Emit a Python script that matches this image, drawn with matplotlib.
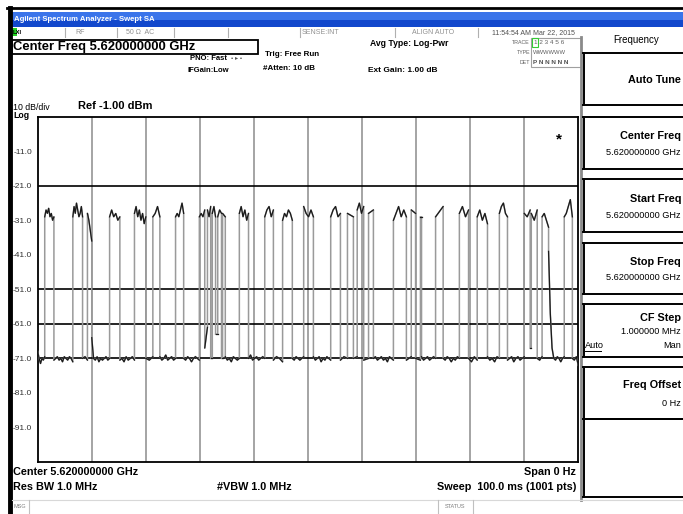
import numpy as np
import matplotlib
matplotlib.use("Agg")
import matplotlib.pyplot as plt
from matplotlib.patches import Rectangle
from matplotlib.lines import Line2D

# ---------------------------------------------------------------- trace data
sweep_ms = 100.0
ref_level_dbm = -1.0
db_per_div = 10.0

# RF burst on/off times (ms) within the zero-span sweep
burst_start_ms = [1.3, 6.5, 9.2, 13.3, 17.9, 21.3, 25.5,
                  29.9, 31.4, 32.3, 33.3, 34.2,
                  37.3, 42.0, 45.3, 49.2, 54.2, 57.3, 59.1, 61.2,
                  65.8, 69.1, 70.8, 73.6, 78.0, 81.3, 85.4,
                  90.0, 91.3, 93.3, 97.4]
burst_stop_ms = [3.0, 8.3, 10.0, 15.2, 20.0, 22.6, 27.0,
                 30.9, 32.0, 32.9, 34.0, 34.7,
                 39.0, 43.6, 47.1, 51.0, 56.0, 58.4, 60.3, 62.1,
                 68.2, 69.9, 71.0, 75.0, 79.7, 83.2, 86.9,
                 91.1, 92.4, 94.5, 98.9]

# level readings (dBm) across the top of each burst
burst_top_dbm = [
    [-30, -28, -29, -27.5, -30, -29, -31, -30],
    [-30, -27, -29, -26, -28, -30, -29, -27, -30],
    [-29, -31, -34, -37],
    [-30, -28, -30, -29, -31, -30],
    [-29, -27, -30, -28, -31, -29, -32, -30],
    [-30, -29, -27, -30],
    [-30, -29, -30, -28, -26, -29],
    [-30, -29, -30, -28],
    [-28, -30, -27],
    [-29, -27, -30],
    [-30, -28, -29],
    [-29, -30],
    [-29, -27, -30, -28, -31, -29],
    [-30, -28, -27, -30, -28],
    [-31, -29, -30, -28, -29, -31],
    [-27, -29, -30, -28, -30],
    [-30, -28, -27, -30, -29],
    [-29, -30],
    [-28, -26, -29, -27],
    [-29, -28],
    [-31, -29, -27, -30, -28, -30],
    [-28, -29],
    [-30, -30],
    [-30, -29, -28, -27],
    [-29, -27, -30, -28],
    [-30, -28, -31, -29, -32],
    [-29, -27, -26, -29, -30],
    [-29, -30, -28],
    [-29, -31, -28],
    [-30, -29, -31, -33],
    [-30, -29, -27, -25, -30],
]

# noise-floor readings (dBm) in each gap between bursts
floor_dbm = [
    [-69, -71, -72.5, -71, -71.5, -70.5],
    [-71.5, -71, -70.5, -71.5, -71, -72, -70.5, -71, -71.5, -70.5, -71, -72],
    [-71, -70.5, -71.5],
    [-65, -71, -71.5, -70.5, -72, -71, -71.5, -71, -70.5, -71.5, -71],
    [-71.5, -71, -72, -70.5, -71.5, -71, -70.5, -71.5],
    [-71, -71.5, -70.5],
    [-70.5, -71.5, -71, -70, -71.5, -71, -70.5, -71.5, -71],
    [-71, -71.5, -70.5, -71, -72, -71, -70.5, -71, -71.5],
    [-68, -62],
    [-71],
    [-64],
    [-71],
    [-70.5, -71.5, -71, -72, -70.5, -71, -71.5, -71],
    [-71, -70, -71.5, -71, -70.5, -71.5, -71, -70.5, -71],
    [-71.5, -70.5, -71, -72],
    [-71, -71.5, -70.5, -71, -71.5, -71, -70.5],
    [-70.5, -71.5, -71, -70.5, -72, -71, -71.5, -70.5, -71, -71.5],
    [-71.5, -70.5, -71],
    [-71, -70.5],
    [-71.5, -71],
    [-71, -70.5, -71.5, -71, -70.5, -71.5, -71, -72, -70.5, -71, -71.5],
    [-71.5, -70.5],
    [-71, -71.5],
    [-70.5, -71.5, -71, -70.5, -71.5, -71, -70.5, -71],
    [-71, -71.5, -70.5, -71, -72, -71, -71.5, -70.5, -71],
    [-71, -72, -70.5, -71.5],
    [-70.5, -71.5, -71, -72, -70.5, -71],
    [-71.5, -71, -70.5, -72, -71, -70.5, -71.5, -71, -70.5],
    [-68],
    [-71, -71.5, -70.5],
    [-40, -58, -68, -71, -71.5, -70.5, -71, -72, -71, -70.5],
    [-71, -71.5, -70.5, -73],
]

hline_dbm = [-21, -51, -61, -71]
ytick_dbm = [-11, -21, -31, -41, -51, -61, -71, -81, -91]

# ---------------------------------------------------------------- figure setup
W, H = 683, 514
plt.rcParams['font.family'] = ['Liberation Sans', 'DejaVu Sans']
fig = plt.figure(figsize=(W / 100, H / 100), dpi=100)
fig.patch.set_facecolor('white')


def fx(x):
    return x / W


def fy(y):
    return 1 - y / H


def text(x, y, s, size=7.0, weight='normal', color='black', ha='left', va='center', **kw):
    return fig.text(fx(x), fy(y), s, fontsize=size, fontweight=weight, color=color,
                    ha=ha, va=va, **kw)


def rect(x0, y0, x1, y1, **kw):
    fig.patches.append(Rectangle((fx(x0), fy(y1)), fx(x1) - fx(x0), fy(y0) - fy(y1),
                                 transform=fig.transFigure, **kw))


def seg(x0, y0, x1, y1, **kw):
    fig.lines.append(Line2D([fx(x0), fx(x1)], [fy(y0), fy(y1)],
                            transform=fig.transFigure, **kw))


# outer window frame and title bar
seg(7, 8, 683, 8, color='black', lw=2.0)
seg(9.5, 8, 9.5, 514, color='black', lw=3.5)
rect(12, 12, 683, 20, facecolor='#3a74ea', edgecolor='none')
rect(12, 20, 683, 27, facecolor='#1248cc', edgecolor='none')
text(14, 19.5, 'Agilent Spectrum Analyzer - Swept SA', size=5.6, weight='bold', color='white')

# status row
rect(12, 28, 17, 36, facecolor='#22d022', edgecolor='none')
text(12.5, 32, 'LXI', size=4.2, weight='bold', color='black')
for xs in [65, 117, 174, 228, 300, 395, 478]:
    seg(xs, 28, xs, 37, color='#b0b0b0', lw=0.8)
text(80, 32.5, 'RF', size=5, color='#909090', ha='center')
text(140, 32.5, '50 \u03a9  AC', size=5, color='#909090', ha='center')
text(320, 32.5, 'SENSE:INT', size=5, color='#909090', ha='center')
text(433, 32.5, 'ALIGN AUTO', size=5, color='#909090', ha='center')
text(533, 32.5, '11:54:54 AM Mar 22, 2015', size=5, color='#505050', ha='center')

# active function box
rect(12, 40, 258, 53.5, facecolor='none', edgecolor='black', lw=1.3)
text(13, 47, 'Center Freq 5.620000000 GHz', size=9.4, weight='bold', color='black')

text(190, 58, 'PNO: Fast', size=5.5, weight='bold')
text(231, 58, '\u2022 \u25b8 \u2022', size=4.5, color='#555555')
text(187, 70, 'IFGain:Low', size=5.5, weight='bold')
text(265, 55, 'Trig: Free Run', size=5.8, weight='bold')
text(263, 68, '#Atten: 10 dB', size=5.8, weight='bold')
text(370, 43, 'Avg Type: Log-Pwr', size=6.2, weight='bold')
text(368, 70, 'Ext Gain: 1.00 dB', size=6.0, weight='bold')

# trace indicator table
text(530, 42, 'TRACE', size=3.8, color='#606060', ha='right')
text(530, 52, 'TYPE', size=3.8, color='#606060', ha='right')
text(530, 62, 'DET', size=3.8, color='#606060', ha='right')
rect(531, 38, 581, 67, facecolor='none', edgecolor='#a0a0a0', lw=0.8)
rect(532, 38.5, 538, 47, facecolor='none', edgecolor='#33cc33', lw=0.8)
text(534, 42, '1 2 3 4 5 6', size=4.6, color='#606060')
text(533, 52, 'WWWWWW', size=4.2, color='#606060')
text(533, 62, 'P N N N N N', size=4.6, weight='bold', color='#505050')

# scale annotations
text(13, 107, '10 dB/div', size=6.3)
text(13, 115.5, 'Log', size=6.3, weight='bold')
text(78, 106, 'Ref -1.00 dBm', size=8.0, weight='bold')

# ---------------------------------------------------------------- right soft-key panel
seg(581, 37, 581, 500, color='#8a8a8a', lw=2.0)
text(636, 40, 'Frequency', size=7.0, ha='center')
boxes = [(53, 105), (117, 169), (179, 232), (243, 294), (304, 357), (367, 419), (419, 497)]
for y0, y1 in boxes:
    seg(583, y0, 683, y0, color='black', lw=1.4)
    seg(583, y1, 683, y1, color='black', lw=1.4)
    seg(583.5, y0, 583.5, y1, color='black', lw=1.4)
text(681, 80, 'Auto Tune', size=7.8, weight='bold', ha='right')
for ytitle, yval, title, val in [(136, 152, 'Center Freq', '5.620000000 GHz'),
                                 (199, 215, 'Start Freq', '5.620000000 GHz'),
                                 (262, 278, 'Stop Freq', '5.620000000 GHz')]:
    text(681, ytitle, title, size=7.8, weight='bold', ha='right')
    text(681, yval, val, size=6.6, ha='right')
text(681, 318, 'CF Step', size=7.8, weight='bold', ha='right')
text(681, 331, '1.000000 MHz', size=6.6, ha='right')
text(585, 346, 'Auto', size=6.6, ha='left')
seg(585, 351, 601, 351, color='black', lw=0.7)
text(681, 346, 'Man', size=6.6, ha='right')
text(681, 385, 'Freq Offset', size=7.8, weight='bold', ha='right')
text(681, 403, '0 Hz', size=6.6, ha='right')

# ---------------------------------------------------------------- graticule
ax_l, ax_r, ax_t, ax_b = 37.7, 578.3, 116.7, 462.0
ax = fig.add_axes([fx(ax_l), fy(ax_b), fx(ax_r) - fx(ax_l), fy(ax_t) - fy(ax_b)])
ax.set_xlim(0, sweep_ms)
bottom_dbm = ref_level_dbm - 10 * db_per_div
ax.set_ylim(bottom_dbm, ref_level_dbm)
ax.set_facecolor('white')
for s in ax.spines.values():
    s.set_linewidth(1.3)
    s.set_color('black')
ax.set_xticks([])
ax.set_yticks(ytick_dbm)
ax.set_yticklabels([f'{v:.1f}' for v in ytick_dbm], fontsize=6.0, color='#303030')
ax.tick_params(axis='y', length=0, pad=4)

for k in range(1, 10):
    ax.axvline(k * sweep_ms / 10, color='#a4a4a4', lw=1.4, zorder=1)
for lv in hline_dbm:
    ax.axhline(lv, color='black', lw=1.2, zorder=1)

# ---------------------------------------------------------------- trace
t_all, v_all = [], []
pieces = []
n = len(burst_start_ms)
for k in range(n + 1):
    g0 = 0.0 if k == 0 else burst_stop_ms[k - 1]
    g1 = sweep_ms if k == n else burst_start_ms[k]
    vals = floor_dbm[k] if len(floor_dbm[k]) > 1 else floor_dbm[k] * 2
    tt = np.linspace(g0, g1, len(vals))
    t_all += list(tt)
    v_all += list(vals)
    pieces.append((tt, vals))
    if k < n:
        vals = burst_top_dbm[k]
        tt = np.linspace(burst_start_ms[k], burst_stop_ms[k], len(vals))
        t_all += list(tt)
        v_all += list(vals)
        pieces.append((tt, vals))

ax.plot(t_all, v_all, color='#9a9a9a', lw=1.1, zorder=3, solid_joinstyle='miter')
for tt, vals in pieces:
    ax.plot(tt, vals, color='#1a1a1a', lw=0.9, zorder=4)

ax.text(0.965, 0.955, '*', transform=ax.transAxes, fontsize=11, weight='bold',
        ha='center', va='top')

# ---------------------------------------------------------------- footer
text(13, 472, 'Center 5.620000000 GHz', size=7.8, weight='bold')
text(576, 472, 'Span 0 Hz', size=7.8, weight='bold', ha='right')
text(13, 486.5, 'Res BW 1.0 MHz', size=7.8, weight='bold')
text(217, 486.5, '#VBW 1.0 MHz', size=7.8, weight='bold')
text(576, 486.5, 'Sweep  100.0 ms (1001 pts)', size=7.8, weight='bold', ha='right')

seg(12, 500, 683, 500, color='#d8d8d8', lw=0.8)
seg(29, 500, 29, 513, color='#c0c0c0', lw=0.8)
text(13, 506, 'MSG', size=4.0, color='#808080')
seg(438, 500, 438, 513, color='#c0c0c0', lw=0.8)
seg(473, 500, 473, 513, color='#c0c0c0', lw=0.8)
text(455.5, 506, 'STATUS', size=4.0, color='#808080', ha='center')

fig.savefig('out.png', dpi=100, facecolor='white')
